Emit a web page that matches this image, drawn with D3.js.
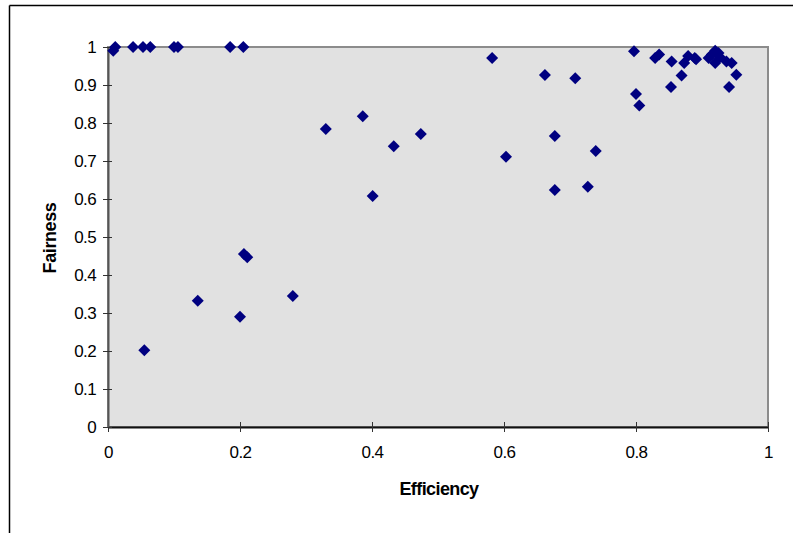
<!DOCTYPE html>
<html>
<head>
<meta charset="utf-8">
<script src="https://cdn.jsdelivr.net/npm/d3@7"></script>
<style>
  body { margin: 0; background: #fff; }
  text { font-family: "Liberation Sans", Arial, sans-serif; }
</style>
</head>
<body>
<div id="scatter"></div>
<script>
// Data
var efficiency = [
  0.008, 0.011, 0.038, 0.053, 0.064, 0.100, 0.106, 0.185, 0.205,
  0.055, 0.136, 0.200, 0.206, 0.211, 0.280,
  0.330, 0.386, 0.401, 0.433, 0.474,
  0.582, 0.603, 0.662, 0.677, 0.677, 0.708, 0.727, 0.739,
  0.797, 0.800, 0.805, 0.829, 0.835, 0.853, 0.854, 0.869, 0.873, 0.879,
  0.889, 0.891, 0.910, 0.915, 0.920, 0.920, 0.925, 0.927, 0.937, 0.941, 0.945, 0.952
];
var fairness = [
  0.990, 1.000, 1.000, 1.000, 1.000, 1.000, 1.000, 1.000, 1.000,
  0.202, 0.332, 0.290, 0.455, 0.447, 0.345,
  0.784, 0.818, 0.608, 0.739, 0.771,
  0.971, 0.711, 0.926, 0.766, 0.624, 0.918, 0.632, 0.726,
  0.989, 0.876, 0.846, 0.971, 0.980, 0.895, 0.962, 0.925, 0.958, 0.976,
  0.971, 0.968, 0.971, 0.980, 0.958, 0.990, 0.984, 0.974, 0.962, 0.895, 0.958, 0.927
];
var xTicks = [0, 0.2, 0.4, 0.6, 0.8, 1];
var yTicks = [0, 0.1, 0.2, 0.3, 0.4, 0.5, 0.6, 0.7, 0.8, 0.9, 1];

var data = efficiency.map((e, i) => ({ e: e, f: fairness[i] }));

// Configuring SVG
var svgWidth = 794;
var svgHeight = 533;

var margin = { top: 47, right: 26, bottom: 106, left: 108 };
var width = 660;
var height = 380;

var svg = d3.select("#scatter")
  .append("svg")
  .attr("width", svgWidth)
  .attr("height", svgHeight);

// outer frame (only top and left edges visible)
svg.append("line")
  .attr("x1", 9.5).attr("x2", 793).attr("y1", 5.5).attr("y2", 5.5)
  .attr("stroke", "#000").attr("stroke-width", 1.5);
svg.append("line")
  .attr("x1", 9.5).attr("x2", 9.5).attr("y1", 5.5).attr("y2", 533)
  .attr("stroke", "#000").attr("stroke-width", 1.5);

var chartGroup = svg.append("g")
  .attr("transform", `translate(${margin.left}, ${margin.top})`);

// Scales
var xScale = d3.scaleLinear().domain([0, 1]).range([0, width]);
var yScale = d3.scaleLinear().domain([0, 1]).range([height, 0]);

// plot area
chartGroup.append("rect")
  .attr("x", 0).attr("y", 0)
  .attr("width", width).attr("height", height)
  .attr("fill", "#e1e1e1")
  .attr("stroke", "#8c8c8c")
  .attr("stroke-width", 2);

// Axes
var bottomAxis = d3.axisBottom(xScale)
  .tickValues(xTicks)
  .tickFormat(d3.format("~g"))
  .tickSizeInner(5).tickSizeOuter(0).tickPadding(14);
var leftAxis = d3.axisLeft(yScale)
  .tickValues(yTicks)
  .tickFormat(d3.format("~g"))
  .tickSizeInner(5).tickSizeOuter(0).tickPadding(7);

var gx = chartGroup.append("g")
  .attr("transform", `translate(0, ${height})`)
  .call(bottomAxis);
gx.select(".domain").attr("stroke", "#111").attr("stroke-width", 2);
gx.selectAll(".tick line").attr("y1", -5).attr("stroke", "#333");

var gy = chartGroup.append("g").call(leftAxis);
gy.select(".domain").attr("stroke", "#555").attr("stroke-width", 2);
gy.selectAll(".tick line").attr("x2", 4).attr("x1", -5).attr("stroke", "#333");

chartGroup.selectAll(".tick text")
  .attr("font-size", "17px")
  .attr("font-family", "Liberation Sans, Arial, sans-serif")
  .attr("letter-spacing", "-0.6px")
  .attr("fill", "#000");

// Diamond markers (squares turned 45 degrees)
var diamond = d3.symbol().type(d3.symbolSquare).size(72);
chartGroup.append("g").selectAll("path")
  .data(data)
  .enter()
  .append("path")
  .attr("d", diamond)
  .attr("transform", d => `translate(${xScale(d.e)}, ${yScale(d.f)}) rotate(45)`)
  .attr("fill", "#000080");

// Axis labels
chartGroup.append("text")
  .attr("transform", "rotate(-90)")
  .attr("x", -height / 2 - 1)
  .attr("y", -52)
  .attr("text-anchor", "middle")
  .attr("font-size", "18px")
  .attr("font-weight", "bold")
  .attr("letter-spacing", "-0.4px")
  .text("Fairness");

chartGroup.append("text")
  .attr("x", 331)
  .attr("y", height + 68)
  .attr("text-anchor", "middle")
  .attr("font-size", "18px")
  .attr("font-weight", "bold")
  .attr("letter-spacing", "-0.6px")
  .text("Efficiency");
</script>
</body>
</html>
